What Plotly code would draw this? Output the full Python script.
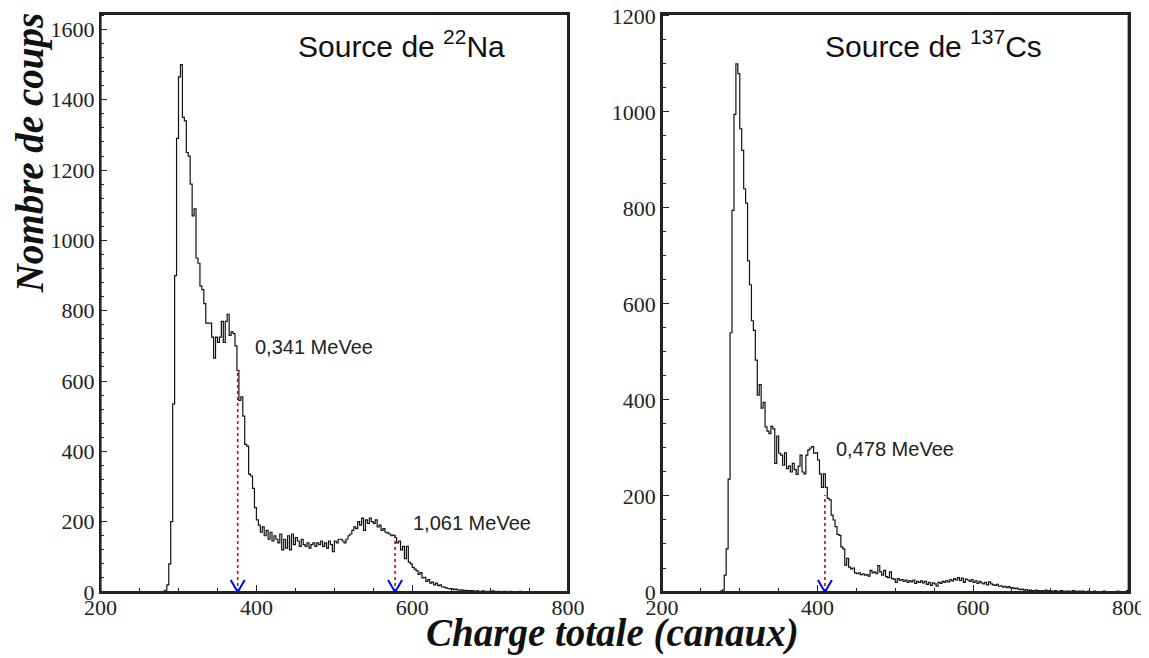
import plotly.graph_objects as go

# --- data -------------------------------------------------------------------
BIN_WIDTH = 2.5

na_start = 280.0
na_counts = [
    2, 5, 20, 80, 200, 535, 900, 1290, 1465, 1500,
    1350, 1340, 1250, 1240, 1160, 1070, 1090, 950, 935, 870,
    860, 820, 765, 765, 765, 725, 665, 725, 710, 725,
    770, 710, 770, 790, 730, 740, 735, 700, 630, 545,
    555, 500, 420, 415, 335, 330, 295, 240, 205, 190,
    170, 185, 160, 175, 150, 170, 145, 160, 150, 140,
    165, 120, 150, 125, 160, 120, 165, 135, 155, 145,
    130, 150, 135, 130, 140, 125, 135, 140, 130, 140,
    135, 145, 130, 140, 125, 145, 135, 115, 145, 140,
    150, 150, 145, 140, 150, 160, 165, 175, 185, 180,
    200, 190, 210, 175, 205, 195, 210, 200, 195, 205,
    185, 190, 175, 180, 170, 168, 165, 160, 162, 155,
    140, 145, 120, 130, 95, 130, 85, 80, 70, 65,
    60, 50, 55, 40, 42, 30, 35, 25, 28, 20,
    25, 18, 20, 15, 14, 12, 10, 9, 10, 7,
    8, 6, 5, 6, 4, 5, 4, 3, 4, 3,
    2, 3, 2, 2, 3, 1, 2, 2, 1, 3,
    2, 1, 2, 1, 1, 2, 1, 0, 2, 1,
    1, 0, 1, 2, 0, 1, 1, 0, 1, 0,
    1, 1, 0, 0, 1, 0, 1, 0, 0, 1,
    0, 0, 1, 0, 0, 0, 1, 0,
]

cs_start = 270.0
cs_counts = [
    0, 1, 2, 4, 35, 90, 235, 540, 795, 995,
    1100, 1080, 965, 920, 840, 810, 690, 640, 565, 545,
    483, 410, 432, 383, 395, 344, 335, 330, 345, 340,
    268, 325, 289, 285, 264, 290, 257, 262, 250, 268,
    255, 245, 262, 285, 250, 246, 285, 296, 300, 303,
    289, 290, 275, 246, 218, 246, 218, 195, 192, 160,
    150, 136, 120, 118, 94, 90, 56, 70, 52, 48,
    50, 40, 38, 40, 36, 38, 35, 36, 33, 45,
    40, 42, 38, 55, 42, 35, 45, 32, 30, 42,
    28, 27, 20, 28, 24, 26, 22, 25, 20, 24,
    21, 25, 18, 22, 20, 23, 19, 22, 16, 20,
    14, 19, 17, 12, 20, 18, 22, 20, 24, 21,
    26, 23, 28, 25, 30, 24, 29, 20, 27, 25,
    22, 26, 20, 23, 18, 22, 19, 17, 20, 15,
    21, 17, 15, 14, 16, 12, 13, 10, 12, 9,
    11, 8, 9, 7, 8, 6, 5, 6, 4, 5,
    3, 4, 3, 2, 4, 3, 2, 3, 2, 4,
    2, 3, 2, 2, 3, 1, 2, 3, 2, 1,
    2, 2, 1, 3, 2, 1, 2, 1, 2, 1,
    1, 2, 1, 1, 2, 1, 1, 0, 1, 2,
    1, 0, 1, 1, 0, 1, 2, 0, 1, 0,
    1, 3,
]

# Compton edges: channel, height of the marker line, label
na_edges = [376, 578]
na_edge_tops = [623, 168]
na_edge_labels = ["0,341 MeVee", "1,061 MeVee"]

cs_edges = [409.5]
cs_edge_tops = [202]
cs_edge_labels = ["0,478 MeVee"]

x_range = [200, 800]
na_y_max = 1644
cs_y_max = 1204


def step_xy(start, counts):
    edges = [start + BIN_WIDTH * i for i in range(len(counts) + 1)]
    xs = [start] + edges
    ys = [0] + counts + [counts[-1]]
    return xs, ys


fig = go.Figure()

for start, counts, xa, ya in [
    (na_start, na_counts, "x", "y"),
    (cs_start, cs_counts, "x2", "y2"),
]:
    xs, ys = step_xy(start, counts)
    fig.add_trace(
        go.Scatter(
            x=xs, y=ys, mode="lines", line=dict(color="#111111", width=1.2, shape="hv"),
            xaxis=xa, yaxis=ya, showlegend=False, hoverinfo="skip",
        )
    )

# frame around each pad
shapes = []
for xa, ya in [("x", "y"), ("x2", "y2")]:
    shapes.append(
        dict(
            type="rect", xref=f"{xa} domain", yref=f"{ya} domain",
            x0=0, x1=1, y0=0, y1=1, line=dict(color="#222222", width=2),
            layer="above",
        )
    )

# dotted red lines and blue V markers at the edges
for edges, tops, xa, ya in [
    (na_edges, na_edge_tops, "x", "y"),
    (cs_edges, cs_edge_tops, "x2", "y2"),
]:
    for e, t in zip(edges, tops):
        fig.add_trace(
            go.Scatter(
                x=[e, e], y=[0, t], mode="lines",
                line=dict(color="#e00000", width=1.6, dash="dot"),
                xaxis=xa, yaxis=ya, showlegend=False, hoverinfo="skip",
            )
        )
        shapes.append(
            dict(
                type="path", xref=xa, yref=ya, xsizemode="pixel", ysizemode="pixel",
                xanchor=e, yanchor=0, path="M -7,12 L 0,0 L 7,12",
                line=dict(color="#0000ff", width=2),
            )
        )

axis_common = dict(
    showline=True, linecolor="#222222", linewidth=1.5, mirror=True,
    ticks="inside", ticklen=7, tickwidth=1, tickcolor="#222222",
    showgrid=False, zeroline=False, automargin=False, ticklabeloverflow="allow",
    tickfont=dict(family="Liberation Serif, Times New Roman, serif", size=22,
                  color="#222222"),
)
x_minor = dict(dtick=50, ticks="inside", ticklen=4, tickcolor="#222222")

fig.update_layout(
    width=1149, height=658,
    margin=dict(l=0, r=0, t=0, b=0, pad=0),
    paper_bgcolor="white", plot_bgcolor="white",
    xaxis=dict(domain=[0.0806, 0.4874], range=x_range, dtick=200, anchor="y",
               minor=x_minor, ticklabelstandoff=-5, **axis_common),
    yaxis=dict(domain=[0.11246, 0.99088], range=[0, na_y_max], dtick=200, anchor="x",
               minor=dict(dtick=40, ticks="inside", ticklen=4, tickcolor="#222222"),
               **axis_common),
    xaxis2=dict(domain=[0.5692, 0.9753], range=x_range, dtick=200, anchor="y2",
                minor=x_minor, ticklabelstandoff=-5, **axis_common),
    yaxis2=dict(domain=[0.11246, 0.99088], range=[0, cs_y_max], dtick=200, anchor="x2",
                minor=dict(dtick=50, ticks="inside", ticklen=4, tickcolor="#222222"),
                **axis_common),
    shapes=shapes,
)

label_font = dict(family="Liberation Sans", size=20, color="#222222")
title_font = dict(family="Liberation Sans", size=30, color="#111111")
axis_title_font = dict(family="Liberation Serif", size=39, color="#111111",
                       weight="bold", style="italic")

annotations = [
    dict(text="Source de <sup>22</sup>Na", x=451, y=1559, xref="x", yref="y",
         xanchor="left", yanchor="middle", showarrow=False, font=title_font),
    dict(text="Source de <sup>137</sup>Cs", x=407, y=1142, xref="x2", yref="y2",
         xanchor="left", yanchor="middle", showarrow=False, font=title_font),
    dict(text=na_edge_labels[0], x=396, y=697, xref="x", yref="y",
         xanchor="left", yanchor="middle", showarrow=False, font=label_font),
    dict(text=na_edge_labels[1], x=598, y=197, xref="x", yref="y",
         xanchor="left", yanchor="middle", showarrow=False, font=label_font),
    dict(text=cs_edge_labels[0], x=421, y=298, xref="x2", yref="y2",
         xanchor="left", yanchor="middle", showarrow=False, font=label_font),
    dict(text="Charge totale (canaux)", x=0.5257, y=0.050, xref="paper", yref="paper",
         xanchor="center", yanchor="middle", showarrow=False, font=axis_title_font),
    dict(text="Nombre de coups", x=0.0191, y=0.779, xref="paper", yref="paper",
         xanchor="center", yanchor="middle", textangle=-90, showarrow=False,
         font=dict(axis_title_font, size=39)),
]
fig.update_layout(annotations=annotations)

fig.write_html("out.html")
